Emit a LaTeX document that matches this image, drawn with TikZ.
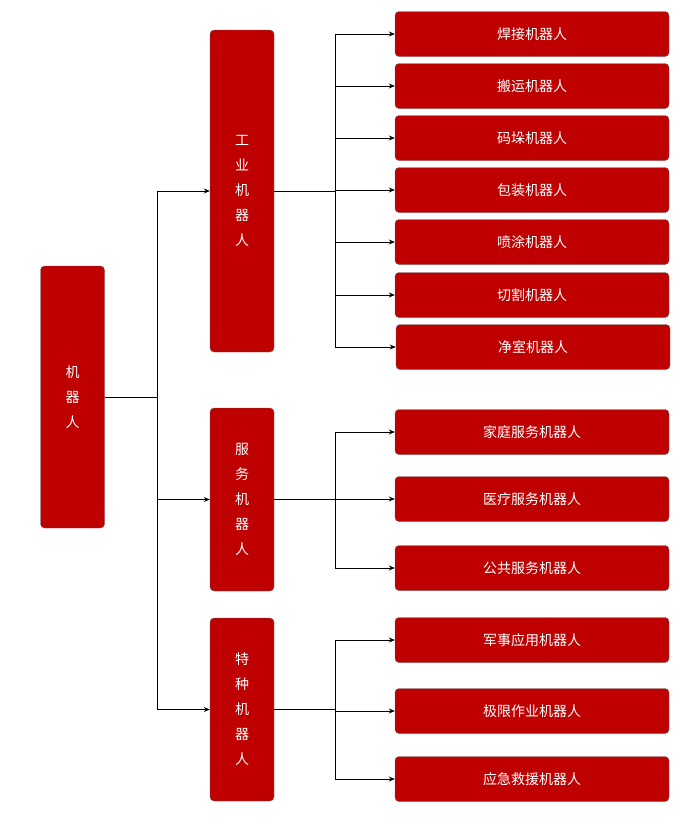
\documentclass[tikz,border=0pt]{standalone}
\usepackage{fontspec}
\newfontfamily\cjk{Noto Sans CJK SC}
\usetikzlibrary{arrows.meta, positioning}
\tikzset{
  redbox/.style={draw=black!60, fill=red!75!black, rounded corners=4pt, text=white, font=\cjk\fontsize{14}{25}\selectfont, align=center, inner sep=0pt},
  link/.style={black, thick},
  linkarrow/.style={black, thick, -{Stealth[length=6pt,width=5pt]}}
}
\begin{document}
\begin{tikzpicture}[x=1pt, y=-1pt]
          \useasboundingbox (0,0) rectangle (700,823);

          \node [redbox, minimum width=64pt, minimum height=262pt] (root) at (72.5,397) {机\\器\\人}; % Draws the root box

          \node [redbox, minimum width=64pt, minimum height=322pt] (ind) at (242,191) {工\\业\\机\\器\\人}; % Draws a middle box
          \node [redbox, minimum width=64pt, minimum height=183pt] (srv) at (242,499.5) {服\\务\\机\\器\\人};
          \node [redbox, minimum width=64pt, minimum height=183pt] (spc) at (242,709.5) {特\\种\\机\\器\\人};

          \node [redbox, minimum width=274pt, minimum height=45pt] (weld) at (532,34) {焊接机器人}; % Draws a leaf box
          \node [redbox, minimum width=274pt, minimum height=45pt] (move) at (532,86) {搬运机器人};
          \node [redbox, minimum width=274pt, minimum height=45pt] (stack) at (532,138) {码垛机器人};
          \node [redbox, minimum width=274pt, minimum height=45pt] (pack) at (532,190) {包装机器人};
          \node [redbox, minimum width=274pt, minimum height=45pt] (spray) at (532,242) {喷涂机器人};
          \node [redbox, minimum width=274pt, minimum height=45pt] (cut) at (532,295) {切割机器人};
          \node [redbox, minimum width=274pt, minimum height=45pt] (clean) at (533,347) {净室机器人};

          \node [redbox, minimum width=274pt, minimum height=45pt] (home) at (532,432) {家庭服务机器人};
          \node [redbox, minimum width=274pt, minimum height=45pt] (med) at (532,499) {医疗服务机器人};
          \node [redbox, minimum width=274pt, minimum height=45pt] (pub) at (532,568) {公共服务机器人};

          \node [redbox, minimum width=274pt, minimum height=45pt] (mil) at (532,640) {军事应用机器人};
          \node [redbox, minimum width=274pt, minimum height=45pt] (ext) at (532,711) {极限作业机器人};
          \node [redbox, minimum width=274pt, minimum height=45pt] (res) at (532,779) {应急救援机器人};

          \coordinate (rj) at (157,397);
          \draw [link] (root.east) -- (rj);
          \draw [linkarrow] (rj) |- (ind.west);
          \draw [linkarrow] (rj) |- (srv.west);
          \draw [linkarrow] (rj) |- (spc.west);

          \coordinate (ij) at (335,191);
          \draw [link] (ind.east) -- (ij);
          \draw [linkarrow] (ij) |- (weld.west);
          \draw [linkarrow] (ij) |- (move.west);
          \draw [linkarrow] (ij) |- (stack.west);
          \draw [linkarrow] (ij) |- (pack.west);
          \draw [linkarrow] (ij) |- (spray.west);
          \draw [linkarrow] (ij) |- (cut.west);
          \draw [linkarrow] (ij) |- (clean.west);

          \coordinate (sj) at (335,499.5);
          \draw [link] (srv.east) -- (sj);
          \draw [linkarrow] (sj) |- (home.west);
          \draw [linkarrow] (sj) |- (med.west);
          \draw [linkarrow] (sj) |- (pub.west);

          \coordinate (pj) at (335,709.5);
          \draw [link] (spc.east) -- (pj);
          \draw [linkarrow] (pj) |- (mil.west);
          \draw [linkarrow] (pj) |- (ext.west);
          \draw [linkarrow] (pj) |- (res.west);
        \end{tikzpicture}
\end{document}
